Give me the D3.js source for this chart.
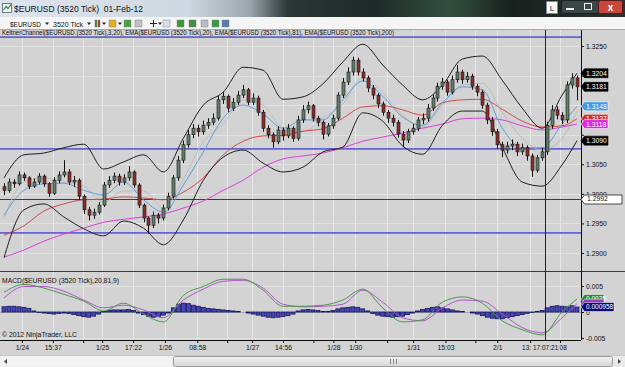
<!DOCTYPE html>
<html>
<head>
<meta charset="utf-8">
<script src="https://cdn.jsdelivr.net/npm/d3@7"></script>
<style>
  html, body { margin: 0; padding: 0; background: #d3d3d3; overflow: hidden; }
  svg { display: block; font-family: "Liberation Sans", Arial, sans-serif; }
  text { white-space: pre; }
</style>
</head>
<body>
<svg id="chart" width="625" height="367"></svg>
<script>
// ---- price bars ($EURUSD 3520 tick), one entry per bar ----
const opens = [
  1.3012, 1.3006, 1.3020, 1.3017, 1.3032, 1.3027, 1.3013, 1.3020, 1.3030, 1.3017,
  1.3001, 1.3023, 1.3032, 1.3037, 1.3020, 1.3023, 1.2996, 1.2973, 1.2964, 1.2969,
  1.2981, 1.3015, 1.3023, 1.3030, 1.3020, 1.3027, 1.3037, 1.3015, 1.2981, 1.2959,
  1.2947, 1.2964, 1.2959, 1.2976, 1.2996, 1.3027, 1.3057, 1.3083, 1.3100, 1.3111,
  1.3105, 1.3116, 1.3121, 1.3128, 1.3159, 1.3165, 1.3145, 1.3155, 1.3167, 1.3176,
  1.3155, 1.3162, 1.3138, 1.3111, 1.3100, 1.3088, 1.3108, 1.3098, 1.3111, 1.3094,
  1.3125, 1.3142, 1.3149, 1.3128, 1.3121, 1.3101, 1.3115, 1.3128, 1.3167, 1.3189,
  1.3206, 1.3226, 1.3206, 1.3196, 1.3179, 1.3167, 1.3152, 1.3138, 1.3128, 1.3121,
  1.3101, 1.3091, 1.3105, 1.3111, 1.3125, 1.3128, 1.3145, 1.3162, 1.3182, 1.3189,
  1.3172, 1.3193, 1.3206, 1.3193, 1.3199, 1.3182, 1.3172, 1.3150, 1.3125, 1.3105,
  1.3083, 1.3074, 1.3081, 1.3084, 1.3071, 1.3078, 1.3064, 1.3040, 1.3061, 1.3071,
  1.3116, 1.3142, 1.3133, 1.3125, 1.3184, 1.3196
];
const closes = [
  1.3006, 1.3020, 1.3017, 1.3032, 1.3027, 1.3013, 1.3020, 1.3030, 1.3017, 1.3001,
  1.3023, 1.3032, 1.3037, 1.3020, 1.3023, 1.2996, 1.2973, 1.2964, 1.2969, 1.2981,
  1.3015, 1.3023, 1.3030, 1.3020, 1.3027, 1.3037, 1.3015, 1.2981, 1.2959, 1.2947,
  1.2964, 1.2959, 1.2976, 1.2996, 1.3027, 1.3057, 1.3083, 1.3100, 1.3111, 1.3105,
  1.3116, 1.3121, 1.3128, 1.3159, 1.3165, 1.3145, 1.3155, 1.3167, 1.3176, 1.3155,
  1.3162, 1.3138, 1.3111, 1.3100, 1.3088, 1.3108, 1.3098, 1.3111, 1.3094, 1.3125,
  1.3142, 1.3149, 1.3128, 1.3121, 1.3101, 1.3115, 1.3128, 1.3167, 1.3189, 1.3206,
  1.3226, 1.3206, 1.3196, 1.3179, 1.3167, 1.3152, 1.3138, 1.3128, 1.3121, 1.3101,
  1.3091, 1.3105, 1.3111, 1.3125, 1.3128, 1.3145, 1.3162, 1.3182, 1.3189, 1.3172,
  1.3193, 1.3206, 1.3193, 1.3199, 1.3182, 1.3172, 1.3150, 1.3125, 1.3105, 1.3083,
  1.3074, 1.3081, 1.3084, 1.3071, 1.3078, 1.3064, 1.3040, 1.3061, 1.3071, 1.3116,
  1.3142, 1.3133, 1.3125, 1.3184, 1.3196, 1.3181
];
const highs = [
  1.3018, 1.3026, 1.3025, 1.3038, 1.3036, 1.3030, 1.3026, 1.3035, 1.3033, 1.3020,
  1.3028, 1.3038, 1.3057, 1.3042, 1.3030, 1.3026, 1.2999, 1.2978, 1.2975, 1.2986,
  1.3020, 1.3030, 1.3036, 1.3034, 1.3033, 1.3047, 1.3040, 1.3018, 1.2984, 1.2962,
  1.2970, 1.2968, 1.2982, 1.3002, 1.3032, 1.3064, 1.3090, 1.3108, 1.3118, 1.3117,
  1.3124, 1.3128, 1.3136, 1.3166, 1.3172, 1.3168, 1.3162, 1.3174, 1.3184, 1.3179,
  1.3170, 1.3166, 1.3142, 1.3116, 1.3104, 1.3114, 1.3112, 1.3118, 1.3114, 1.3132,
  1.3150, 1.3156, 1.3152, 1.3132, 1.3124, 1.3120, 1.3134, 1.3172, 1.3196, 1.3214,
  1.3232, 1.3230, 1.3212, 1.3200, 1.3184, 1.3170, 1.3156, 1.3142, 1.3134, 1.3125,
  1.3106, 1.3110, 1.3118, 1.3130, 1.3136, 1.3152, 1.3168, 1.3188, 1.3196, 1.3193,
  1.3200, 1.3218, 1.3210, 1.3206, 1.3203, 1.3186, 1.3176, 1.3154, 1.3130, 1.3110,
  1.3088, 1.3088, 1.3092, 1.3088, 1.3085, 1.3082, 1.3068, 1.3066, 1.3078, 1.3122,
  1.3150, 1.3148, 1.3138, 1.3190, 1.3204, 1.3200
];
const lows = [
  1.2998, 1.3002, 1.3010, 1.3014, 1.3022, 1.3008, 1.3010, 1.3016, 1.3012, 1.2995,
  1.2998, 1.3018, 1.3028, 1.3015, 1.3012, 1.2990, 1.2966, 1.2955, 1.2958, 1.2965,
  1.2978, 1.3010, 1.3018, 1.3014, 1.3015, 1.3022, 1.3010, 1.2976, 1.2952, 1.2933,
  1.2942, 1.2950, 1.2955, 1.2972, 1.2992, 1.3022, 1.3052, 1.3078, 1.3094, 1.3097,
  1.3100, 1.3110, 1.3116, 1.3124, 1.3152, 1.3138, 1.3140, 1.3150, 1.3162, 1.3150,
  1.3150, 1.3132, 1.3105, 1.3094, 1.3078, 1.3084, 1.3090, 1.3094, 1.3088, 1.3090,
  1.3120, 1.3136, 1.3122, 1.3114, 1.3092, 1.3097, 1.3110, 1.3124, 1.3162, 1.3184,
  1.3200, 1.3200, 1.3190, 1.3172, 1.3160, 1.3145, 1.3132, 1.3120, 1.3114, 1.3095,
  1.3079, 1.3086, 1.3100, 1.3106, 1.3118, 1.3122, 1.3140, 1.3156, 1.3176, 1.3166,
  1.3168, 1.3188, 1.3186, 1.3188, 1.3176, 1.3165, 1.3144, 1.3118, 1.3098, 1.3076,
  1.3062, 1.3068, 1.3074, 1.3064, 1.3066, 1.3056, 1.3029, 1.3036, 1.3056, 1.3066,
  1.3110, 1.3126, 1.3118, 1.3120, 1.3178, 1.3158
];

// ---- indicator lines, sampled every 4th bar ----
const indBars = [0, 4, 8, 12, 16, 20, 24, 28, 32, 36, 40, 44, 48, 52, 56,
  60, 64, 68, 72, 76, 80, 84, 88, 92, 96, 100, 104, 108, 112, 115];
const keltUpper = [1.3027, 1.3066, 1.3069, 1.3078, 1.3084, 1.3042, 1.3054, 1.3066, 1.3037, 1.3094,
  1.3150, 1.3172, 1.3214, 1.3209, 1.3160, 1.3164, 1.3186, 1.3223, 1.3253, 1.3218,
  1.3184, 1.3159, 1.3184, 1.3228, 1.3233, 1.3192, 1.3145, 1.3111, 1.3167, 1.3204];
const keltLower = [1.2892, 1.2973, 1.2983, 1.2961, 1.2941, 1.2929, 1.2954, 1.2942, 1.2914, 1.2956,
  1.3023, 1.3062, 1.3074, 1.3052, 1.3037, 1.3045, 1.3071, 1.3079, 1.3137, 1.3123,
  1.3081, 1.3067, 1.3116, 1.3140, 1.3140, 1.3078, 1.3020, 1.3013, 1.3049, 1.3090];
const keltMid = [1.2959, 1.3020, 1.3027, 1.3020, 1.3013, 1.2986, 1.3005, 1.3005, 1.2976, 1.3025,
  1.3088, 1.3118, 1.3159, 1.3150, 1.3111, 1.3105, 1.3128, 1.3152, 1.3196, 1.3171,
  1.3133, 1.3113, 1.3150, 1.3184, 1.3187, 1.3138, 1.3094, 1.3074, 1.3094, 1.3140];
const ema20 = [1.2964, 1.3006, 1.3017, 1.3018, 1.3006, 1.2998, 1.3020, 1.2990, 1.2969, 1.3015,
  1.3071, 1.3128, 1.3150, 1.3135, 1.3111, 1.3125, 1.3125, 1.3159, 1.3191, 1.3165,
  1.3130, 1.3116, 1.3154, 1.3181, 1.3176, 1.3111, 1.3078, 1.3078, 1.3118, 1.3148];
const ema81 = [1.2930, 1.2946, 1.2971, 1.2983, 1.2990, 1.2991, 1.2995, 1.2993, 1.2990, 1.3003,
  1.3027, 1.3066, 1.3089, 1.3098, 1.3099, 1.3106, 1.3110, 1.3128, 1.3147, 1.3149,
  1.3142, 1.3133, 1.3154, 1.3159, 1.3160, 1.3143, 1.3123, 1.3113, 1.3115, 1.3127];
const ema200 = [1.2893, 1.2905, 1.2920, 1.2932, 1.2942, 1.2952, 1.2957, 1.2961, 1.2966, 1.2976,
  1.2988, 1.3006, 1.3023, 1.3045, 1.3059, 1.3064, 1.3069, 1.3078, 1.3089, 1.3096,
  1.3103, 1.3111, 1.3118, 1.3127, 1.3128, 1.3125, 1.3115, 1.3108, 1.3113, 1.3118];

// ---- MACD(20,81,9) panel ----
const macdLine = [0.0038, 0.0053, 0.0046, 0.0034, 0.0021, 0.0002, 0.0017, -0.0004, -0.0019, 0.0032,
  0.0049, 0.0063, 0.0063, 0.0042, 0.0011, 0.0011, 0.0013, 0.0023, 0.0044, 0.0008,
  -0.0019, -0.0015, 0.0019, 0.0029, 0.0017, -0.0017, -0.0034, -0.0044, 0.0000, 0.0025];
const macdAvg = [0.0027, 0.0049, 0.0049, 0.0040, 0.0023, 0.0008, 0.0013, 0.0004, -0.0011, 0.0023,
  0.0044, 0.0059, 0.0061, 0.0046, 0.0015, 0.0010, 0.0011, 0.0015, 0.0042, 0.0019,
  -0.0011, -0.0017, 0.0008, 0.0023, 0.0021, -0.0004, -0.0030, -0.0040, -0.0011, 0.0016];
const macdDiff = [
  0.0010, 0.0011, 0.0011, 0.0010, 0.0009, 0.0007, 0.0002, -0.0001, -0.0002, -0.0003,
  -0.0004, -0.0003, -0.0002, -0.0003, -0.0005, -0.0007, -0.0009, -0.0010, -0.0008, -0.0004,
  0.0001, 0.0003, 0.0004, 0.0004, 0.0004, 0.0005, 0.0003, -0.0002, -0.0005, -0.0008,
  -0.0010, -0.0009, -0.0006, -0.0002, 0.0008, 0.0015, 0.0017, 0.0016, 0.0013, 0.0011,
  0.0009, 0.0007, 0.0006, 0.0005, 0.0004, 0.0003, 0.0002, 0.0001, 0.0000, -0.0002,
  -0.0004, -0.0006, -0.0008, -0.0010, -0.0011, -0.0010, -0.0009, -0.0007, -0.0004, 0.0002,
  0.0004, 0.0005, 0.0004, 0.0003, 0.0001, 0.0001, 0.0003, 0.0006, 0.0008, 0.0009,
  0.0010, 0.0009, 0.0006, 0.0002, -0.0003, -0.0006, -0.0008, -0.0009, -0.0010, -0.0009,
  -0.0008, -0.0005, -0.0002, 0.0002, 0.0005, 0.0007, 0.0009, 0.0010, 0.0008, 0.0006,
  0.0004, 0.0002, 0.0001, 0.0000, -0.0002, -0.0004, -0.0007, -0.0010, -0.0012, -0.0013,
  -0.0013, -0.0011, -0.0009, -0.0007, -0.0005, -0.0003, -0.0001, 0.0001, 0.0003, 0.0008,
  0.0011, 0.0012, 0.0011, 0.0010, 0.0012, 0.000958
];

// ---- axes, drawn objects ----
const priceTicks = [1.2900, 1.2950, 1.3000, 1.3050, 1.3100, 1.3150, 1.3200, 1.3250];
const macdTicks = [0.005, 0, -0.005];
const gridBars = [3.6, 9.8, 15.9, 19.7, 25.9, 32.3, 38.8, 44.8, 49.8, 56.0,
  62.1, 66.1, 70.5, 76.9, 82.1, 88.6, 94.6, 99.0, 105.6, 111.6];
const timeLabelBars = [3.6, 9.8, 19.7, 25.9, 32.3, 38.8, 49.8, 56.0, 66.1, 70.5, 82.1, 88.6, 99.0];
const timeLabels = ['1/24', '15:37', '1/25', '17:22', '1/26', '08:58', '1/27', '14:56', '1/28', '1/30', '1/31', '15:03', '2/1'];
// labels next to the cursor stamp: only their visible parts are shown
const partLabelBars = [105.6, 111.6];
const partLabels = ['13:', '08'];
const levelLines = [1.3265, 1.3076, 1.2934];   // blue horizontal lines
const refLine = 1.2992;                         // dark horizontal line with tag
const cursorBar = 108.6;                        // vertical cursor line
const cursorTime = '17:07:21';

(function () {
  'use strict';
  const svg = d3.select('#chart');
  const W = 625, H = 367;
  const axisX = 581;              // right edge of the plot panels
  const top = 30, sep = 271, bottom = 340;

  const x = d3.scaleLinear().domain([0, closes.length - 1]).range([4, 577]);
  const y = d3.scaleLinear().domain([1.2900, 1.3250]).range([253, 46]);
  const yM = d3.scaleLinear().domain([-0.005, 0.005]).range([338, 286]);
  const px = (v) => Math.round(v) + 0.5;

  // background
  svg.append('rect').attr('width', W).attr('height', H).attr('fill', '#d3d3d3');

  // ---------- window title bar + toolbar ----------
  const defs = svg.append('defs');
  const tg = defs.append('linearGradient').attr('id', 'titleGrad');
  [['0%', '#dde4ec'], ['30%', '#cfd8e2'], ['40%', '#9aa6ad'], ['46%', '#2c3635'], ['60%', '#1d2a27'],
   ['72%', '#33503f'], ['82%', '#17201d'], ['100%', '#2b3133']]
    .forEach(([o, c]) => tg.append('stop').attr('offset', o).attr('stop-color', c));
  svg.append('rect').attr('width', W).attr('height', 17).attr('fill', 'url(#titleGrad)');
  // title icon
  svg.append('rect').attr('x', 2.5).attr('y', 3.5).attr('width', 9).attr('height', 9).attr('fill', '#f4f4f4').attr('stroke', '#6b7b8b');
  svg.append('path').attr('d', 'M3.5,10 L6,6.5 L8,8.5 L11,4.5').attr('fill', 'none').attr('stroke', '#2a8a3a').attr('stroke-width', 1.2);
  svg.append('text').attr('x', 14).attr('y', 12).attr('font-size', 8.5).attr('fill', '#111')
    .text('$EURUSD (3520 Tick)  01-Feb-12');
  // window buttons
  svg.append('rect').attr('x', 546.5).attr('y', 1.5).attr('width', 11).attr('height', 12).attr('fill', '#fafafa').attr('stroke', '#7a8a9a');
  svg.append('text').attr('x', 552).attr('y', 11).attr('font-size', 8).attr('text-anchor', 'middle').attr('fill', '#222').text('L');
  svg.append('rect').attr('x', 561.5).attr('y', 0.5).attr('width', 37).attr('height', 13).attr('rx', 2).attr('fill', '#3a4646').attr('stroke', '#1a1f1f');
  svg.append('rect').attr('x', 566).attr('y', 8).attr('width', 8).attr('height', 2).attr('fill', '#f0f0f0');
  svg.append('rect').attr('x', 584.5).attr('y', 3.5).attr('width', 7).attr('height', 6).attr('fill', 'none').attr('stroke', '#f0f0f0');
  svg.append('rect').attr('x', 598.5).attr('y', 0.5).attr('width', 24).attr('height', 13).attr('rx', 2).attr('fill', '#c8473c').attr('stroke', '#5a1a14');
  svg.append('text').attr('x', 610.5).attr('y', 11).attr('font-size', 10).attr('font-weight', 'bold').attr('text-anchor', 'middle').attr('fill', '#fff').text('x');

  svg.append('rect').attr('y', 17).attr('width', W).attr('height', 13).attr('fill', '#f5f5f5');
  svg.append('line').attr('x1', 0).attr('x2', W).attr('y1', 29.5).attr('y2', 29.5).attr('stroke', '#a9a9a9');
  const tb = svg.append('g').attr('font-size', 8).attr('fill', '#111');
  tb.append('text').attr('x', 10).attr('y', 26.5).attr('textLength', 31).attr('lengthAdjust', 'spacingAndGlyphs').text('$EURUSD');
  tb.append('text').attr('x', 53).attr('y', 26.5).attr('textLength', 30).attr('lengthAdjust', 'spacingAndGlyphs').text('3520 Tick');
  // drop-down arrows as small triangles
  [45, 87, 102, 118, 158].forEach((xx) => tb.append('path')
    .attr('d', `M${xx},22.5 h4 l-2,2.5 Z`).attr('fill', '#222'));
  // toolbar icons (small coloured glyphs)
  const icons = [
    [95, '#3a8a3a'], [98, '#b03030'], [109, '#e0b020'], [124, '#4aa04a'], [135, '#c0c0c0'],
    [163, '#d8dde8'], [177, '#3a9a3a'], [189, '#4a8a4a'], [201, '#b8bcc8'], [212, '#3a9a4a'], [222, '#5a7ab0']
  ];
  tb.selectAll('rect.icon').data(icons).join('rect').attr('class', 'icon')
    .attr('x', (d) => d[0]).attr('y', 20).attr('width', (d, i) => (i < 2 ? 2 : 7)).attr('height', 7)
    .attr('fill', (d) => d[1]).attr('stroke', '#777').attr('stroke-width', 0.4);
  tb.append('path').attr('d', 'M150,23.5 h7 M153.5,20 v7').attr('stroke', '#222').attr('stroke-width', 1);

  // ---------- grid ----------
  const grid = svg.append('g').attr('shape-rendering', 'crispEdges');
  grid.selectAll('line.v').data(gridBars).join('line').attr('class', 'v')
    .attr('x1', (d) => px(x(d))).attr('x2', (d) => px(x(d)))
    .attr('y1', top).attr('y2', bottom).attr('stroke', '#e6e6e6');
  grid.selectAll('line.h').data(priceTicks).join('line').attr('class', 'h')
    .attr('x1', 0).attr('x2', axisX).attr('y1', (d) => px(y(d))).attr('y2', (d) => px(y(d)))
    .attr('stroke', '#e2e2e2');
  grid.selectAll('line.m').data(macdTicks).join('line').attr('class', 'm')
    .attr('x1', 0).attr('x2', axisX).attr('y1', (d) => px(yM(d))).attr('y2', (d) => px(yM(d)))
    .attr('stroke', (d) => (d === 0 ? '#a9a9a9' : '#e2e2e2'));

  // panel frame
  svg.append('line').attr('x1', 0).attr('x2', W).attr('y1', sep + 0.5).attr('y2', sep + 0.5).attr('stroke', '#3a3a3a');
  svg.append('line').attr('x1', axisX + 0.5).attr('x2', axisX + 0.5).attr('y1', top).attr('y2', bottom).attr('stroke', '#111');
  svg.append('line').attr('x1', 0).attr('x2', axisX).attr('y1', bottom + 0.5).attr('y2', bottom + 0.5).attr('stroke', '#111');

  // indicator caption
  svg.append('text').attr('x', 2).attr('y', 34.5).attr('font-size', 6.6).attr('fill', '#111')
    .attr('textLength', 392).attr('lengthAdjust', 'spacingAndGlyphs')
    .text('KeltnerChannel($EURUSD (3520 Tick),3,20), EMA($EURUSD (3520 Tick),20), EMA($EURUSD (3520 Tick),81), EMA($EURUSD (3520 Tick),200)');

  // ---------- horizontal drawn lines ----------
  svg.append('g').selectAll('line').data(levelLines).join('line')
    .attr('x1', 0).attr('x2', axisX).attr('y1', (d) => y(d)).attr('y2', (d) => y(d))
    .attr('stroke', '#6464d2').attr('stroke-width', 1.6);
  svg.append('line').attr('x1', 0).attr('x2', axisX).attr('y1', px(y(refLine))).attr('y2', px(y(refLine)))
    .attr('stroke', '#3c3c3c').attr('stroke-width', 1);

  // ---------- indicator lines ----------
  const line = (vals) => d3.line().curve(d3.curveMonotoneX)
    .x((d, i) => x(indBars[i])).y((d) => y(d))(vals);
  const series = [
    [keltMid, '#bdbdbd'], [ema200, '#dd3fdd'], [ema81, '#d04a4a'], [ema20, '#5b9fdc'],
    [keltUpper, '#1e1e1e'], [keltLower, '#1e1e1e']
  ];
  svg.append('g').selectAll('path').data(series).join('path')
    .attr('d', (d) => line(d[0])).attr('fill', 'none').attr('stroke', (d) => d[1]).attr('stroke-width', 1);

  // ---------- candles ----------
  const bars = closes.map((c, i) => ({ i, o: opens[i], h: highs[i], l: lows[i], c }));
  const cg = svg.append('g').selectAll('g').data(bars).join('g');
  cg.append('line')
    .attr('x1', (d) => px(x(d.i))).attr('x2', (d) => px(x(d.i)))
    .attr('y1', (d) => y(d.h)).attr('y2', (d) => y(d.l))
    .attr('stroke', '#111').attr('stroke-width', 1);
  cg.append('rect')
    .attr('x', (d) => Math.round(x(d.i)) - 1)
    .attr('y', (d) => y(Math.max(d.o, d.c)))
    .attr('width', 3)
    .attr('height', (d) => Math.max(1, Math.abs(y(d.o) - y(d.c))))
    .attr('fill', (d) => (d.c >= d.o ? '#62806b' : '#8c2f2c'))
    .attr('stroke', '#111').attr('stroke-width', 0.6);

  // ---------- MACD panel ----------
  svg.append('text').attr('x', 2).attr('y', 283).attr('font-size', 6.8).attr('fill', '#111')
    .text('MACD($EURUSD (3520 Tick),20,81,9)');
  svg.append('g').selectAll('rect').data(macdDiff).join('rect')
    .attr('x', (d, i) => x(i) - 2).attr('width', 4)
    .attr('y', (d) => Math.min(yM(d), yM(0)))
    .attr('height', (d) => Math.abs(yM(d) - yM(0)))
    .attr('fill', '#4646b8').attr('stroke', '#14145e').attr('stroke-width', 0.8);
  const mline = (vals) => d3.line().curve(d3.curveMonotoneX)
    .x((d, i) => x(indBars[i])).y((d) => yM(d))(vals);
  svg.append('path').attr('d', mline(macdAvg)).attr('fill', 'none').attr('stroke', '#b552cf').attr('stroke-width', 1);
  svg.append('path').attr('d', mline(macdLine)).attr('fill', 'none').attr('stroke', '#4a984a').attr('stroke-width', 1);
  svg.append('text').attr('x', 2).attr('y', 337).attr('font-size', 6.8).attr('fill', '#111')
    .text('© 2012 NinjaTrader, LLC');

  // cursor line through both panels
  svg.append('line').attr('x1', px(x(cursorBar))).attr('x2', px(x(cursorBar)))
    .attr('y1', top).attr('y2', bottom).attr('stroke', '#222');

  // ---------- value tags (listed first: axis labels under a tag are hidden, as in NinjaTrader) ----------
  const lastOf = (a) => a[a.length - 1];
  const priceTags = [
    [lastOf(ema81), '#cc3333'], [lastOf(ema200), '#e028e0'], [lastOf(ema20), '#3d9be9'],
    [lastOf(keltLower), '#000'], [lastOf(closes), '#000'], [lastOf(keltUpper), '#000']
  ];

  // ---------- axes ----------
  const styleAxis = (g) => {
    g.select('.domain').remove();
    g.selectAll('.tick line').attr('stroke', '#111');
    g.selectAll('.tick text').attr('fill', '#111').attr('font-size', 6.8)
      .attr('font-family', '"Liberation Sans", Arial, sans-serif');
  };
  const priceAxis = svg.append('g').attr('transform', `translate(${axisX},0)`)
    .call(d3.axisRight(y).tickValues(priceTicks).tickSize(3).tickPadding(2).tickFormat((d) => d.toFixed(4)))
    .call(styleAxis);
  priceAxis.selectAll('.tick text')
    .style('display', (d) => (priceTags.some(([v]) => Math.abs(v - d) < 0.0011) ? 'none' : null));
  svg.append('g').attr('transform', `translate(${axisX},0)`)
    .call(d3.axisRight(yM).tickValues(macdTicks).tickSize(3).tickPadding(2)
      .tickFormat((d) => (d === 0 ? '0' : d.toFixed(3))))
    .call(styleAxis);
  const tlab = new Map(timeLabelBars.map((b, i) => [b, timeLabels[i]]));
  svg.append('g').attr('transform', `translate(0,${bottom})`)
    .call(d3.axisBottom(x).tickValues(gridBars).tickSize(3).tickPadding(2).tickFormat((d) => tlab.get(d) || ''))
    .call(styleAxis);
  // cursor time stamp and the label fragments on either side of it
  const cx = x(cursorBar);
  svg.append('text').attr('x', cx + 0.5).attr('y', 349.5).attr('font-size', 6.5).attr('text-anchor', 'middle')
    .attr('fill', '#111').text(cursorTime);
  svg.append('g').selectAll('text').data(partLabels).join('text')
    .attr('x', (d, i) => (i === 0 ? cx - 14 : cx + 14.5))
    .attr('y', 349.5).attr('font-size', 6.5).attr('fill', '#111')
    .attr('text-anchor', (d, i) => (i === 0 ? 'end' : 'start'))
    .text((d) => d);

  const tagPath = (yy, w) => `M${axisX},${yy} L${axisX + 3.5},${yy - 4.5} H${axisX + w} V${yy + 4.5} H${axisX + 3.5} Z`;
  const tags = svg.append('g');
  priceTags.forEach(([v, col]) => {
    tags.append('path').attr('d', tagPath(y(v), 27)).attr('fill', col).attr('stroke', col === '#000' ? '#000' : '#fff').attr('stroke-width', 0.6);
    tags.append('text').attr('x', axisX + 5).attr('y', y(v) + 2.5).attr('font-size', 6.8).attr('fill', '#fff').text(v.toFixed(4));
  });
  tags.append('path').attr('d', tagPath(px(y(refLine)), 41)).attr('fill', '#fff').attr('stroke', '#222').attr('stroke-width', 0.8);
  tags.append('text').attr('x', axisX + 6).attr('y', y(refLine) + 2.5).attr('font-size', 6.8).attr('fill', '#111').text(refLine.toFixed(4));

  // MACD tags; the signal tag sits almost fully under the other two, so only its edge shows
  const macdTags = [
    [lastOf(macdLine), '#2f8a2f', 4, 23, true], [lastOf(macdAvg), '#9b36c4', 4, 23, false], [lastOf(macdDiff), '#0a0a78', 6, 33, true]
  ];
  macdTags.forEach(([v, col, digits, w, showText]) => {
    tags.append('path').attr('d', tagPath(yM(v), w)).attr('fill', col).attr('stroke', '#fff').attr('stroke-width', 0.5);
    if (showText) {
      tags.append('text').attr('x', axisX + 5).attr('y', yM(v) + 2.3).attr('font-size', 6.5).attr('fill', '#fff')
        .text(v.toFixed(digits));
    }
  });

  // ---------- horizontal scrollbar ----------
  const sb = svg.append('g');
  sb.append('rect').attr('y', 355).attr('width', W).attr('height', 12).attr('fill', '#eaeaea');
  sb.append('line').attr('x1', 0).attr('x2', W).attr('y1', 355.5).attr('y2', 355.5).attr('stroke', '#c8c8c8');
  sb.append('rect').attr('x', 0.5).attr('y', 356.5).attr('width', 172).attr('height', 10).attr('fill', '#f3f3f3');
  sb.append('path').attr('d', 'M4,361.5 L7,359 L7,364 Z').attr('fill', '#444');
  const sg = defs.append('linearGradient').attr('id', 'thumbGrad').attr('x1', 0).attr('x2', 0).attr('y1', 0).attr('y2', 1);
  sg.append('stop').attr('offset', '0%').attr('stop-color', '#f2f2f2');
  sg.append('stop').attr('offset', '100%').attr('stop-color', '#d6d6d6');
  sb.append('rect').attr('x', 173.5).attr('y', 356.5).attr('width', 439).attr('height', 10).attr('rx', 2)
    .attr('fill', 'url(#thumbGrad)').attr('stroke', '#9c9c9c');
  [390, 393, 396].forEach((gx) => sb.append('line').attr('x1', gx + 0.5).attr('x2', gx + 0.5).attr('y1', 359).attr('y2', 364).attr('stroke', '#8a8a8a'));
  sb.append('path').attr('d', 'M621,361.5 L618,359 L618,364 Z').attr('fill', '#444');
})();
</script>
</body>
</html>
